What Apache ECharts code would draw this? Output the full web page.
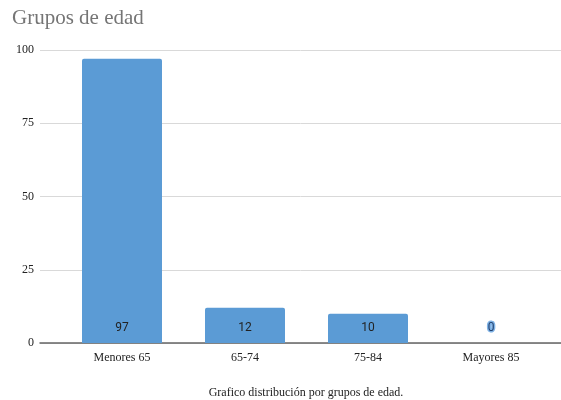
<!DOCTYPE html>
<html>
<head>
<meta charset="utf-8">
<script src="https://cdn.jsdelivr.net/npm/echarts@6/dist/echarts.min.js"></script>
<style>
  html, body { margin: 0; padding: 0; background: #ffffff; }
  #chart { width: 561px; height: 400px; }
</style>
</head>
<body>
<div id="chart"></div>
<script>
// Age groups and their counts
const categories = ['Menores 65', '65-74', '75-84', 'Mayores 85'];
const counts = [97, 12, 10, 0];
const yTicks = [0, 25, 50, 75, 100];

const chart = echarts.init(document.getElementById('chart'), null, { renderer: 'canvas' });

const serif = '"Liberation Serif", "DejaVu Serif", serif';
const sans = 'Roboto, "Liberation Sans", Arial, sans-serif';

const barData = counts.map(function (v) {
  if (v === 0) {
    return {
      value: v,
      label: {
        color: '#1f3f6e',
        textBorderColor: '#7fb2e5',
        textBorderWidth: 3
      }
    };
  }
  return v;
});

chart.setOption({
  animation: false,
  title: {
    text: 'Grupos de edad',
    left: 7,
    top: 3,
    textStyle: { fontFamily: serif, fontSize: 21, fontWeight: 'normal', color: '#757575' }
  },
  graphic: [{
    type: 'text',
    x: 306,
    y: 393,
    style: {
      text: 'Grafico distribución por grupos de edad.',
      font: '12px ' + serif,
      fill: '#222222',
      align: 'center',
      verticalAlign: 'middle'
    }
  }],
  grid: [
    { left: 40, right: 0, top: 50, bottom: 57 },
    { left: 60.5, right: 8.5, top: 50, bottom: 57 }
  ],
  xAxis: [
    {
      gridIndex: 0,
      type: 'value',
      min: 0,
      max: 1,
      axisLine: { show: true, onZero: false, lineStyle: { color: '#666666', width: 1.5 } },
      axisTick: { show: false },
      axisLabel: { show: false },
      splitLine: { show: false }
    },
    {
      gridIndex: 1,
      type: 'category',
      data: categories,
      axisLine: { show: false },
      axisTick: { show: false },
      axisLabel: { fontFamily: serif, fontSize: 12, color: '#222222', margin: 9 }
    }
  ],
  yAxis: [
    {
      gridIndex: 0,
      type: 'value',
      min: yTicks[0],
      max: yTicks[yTicks.length - 1],
      interval: 25,
      axisLine: { show: false },
      axisTick: { show: false },
      axisLabel: { fontFamily: serif, fontSize: 12, color: '#222222', margin: 6 },
      splitLine: { lineStyle: { color: '#d9d9d9', width: 1 } }
    },
    {
      gridIndex: 1,
      type: 'value',
      min: yTicks[0],
      max: yTicks[yTicks.length - 1],
      show: false,
      splitLine: { show: false }
    }
  ],
  series: [{
    type: 'bar',
    xAxisIndex: 1,
    yAxisIndex: 1,
    data: barData,
    barWidth: 80,
    itemStyle: { color: '#5b9bd5', borderRadius: [2, 2, 0, 0] },
    label: {
      show: true,
      position: 'insideBottom',
      distance: 9,
      fontFamily: sans,
      fontSize: 12,
      color: '#222222'
    }
  }]
});
</script>
</body>
</html>
